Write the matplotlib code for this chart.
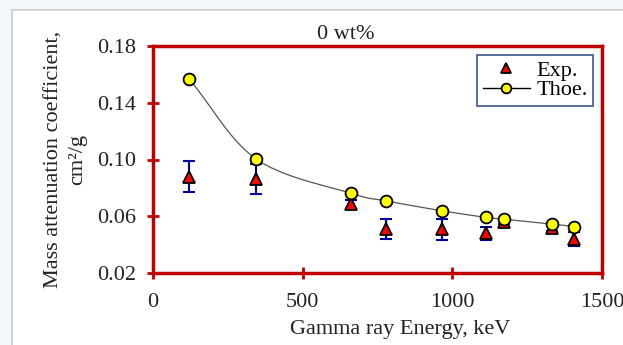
import numpy as np
import matplotlib.pyplot as plt
from matplotlib.patches import Rectangle

plt.rcParams['font.family'] = ['Liberation Serif', 'DejaVu Serif']

# gamma energies (keV)
energy = [121.8, 344.3, 661.7, 778.9, 964.1, 1112.1, 1173.2, 1332.5, 1408.0]
# experimental values and error bars
exp_mu = [0.0879, 0.0860, 0.0684, 0.0510, 0.0508, 0.0480, 0.0562, 0.0515, 0.0437]
exp_err = [0.0110, 0.0105, 0.0030, 0.0068, 0.0075, 0.0045, 0.0020, 0.0020, 0.0050]
# theoretical values
theo_mu = [0.1565, 0.1004, 0.0762, 0.0708, 0.0639, 0.0592, 0.0579, 0.0545, 0.0527]

xticks = [0, 500, 1000, 1500]
yticks = [0.02, 0.06, 0.10, 0.14, 0.18]


def smooth(xs, ys, n=30):
    # catmull-rom, roughly like excel's smoothed line
    xs = np.asarray(xs, float)
    ys = np.asarray(ys, float)
    px = np.concatenate([[2 * xs[0] - xs[1]], xs, [2 * xs[-1] - xs[-2]]])
    py = np.concatenate([[2 * ys[0] - ys[1]], ys, [2 * ys[-1] - ys[-2]]])
    outx, outy = [], []
    t = np.linspace(0, 1, n)
    for i in range(1, len(px) - 2):
        for p, out in ((px, outx), (py, outy)):
            p0, p1, p2, p3 = p[i - 1], p[i], p[i + 1], p[i + 2]
            out.extend(0.5 * (2 * p1 + (-p0 + p2) * t
                              + (2 * p0 - 5 * p1 + 4 * p2 - p3) * t ** 2
                              + (-p0 + 3 * p1 - 3 * p2 + p3) * t ** 3))
    return outx, outy


fig = plt.figure(figsize=(6.23, 3.45), dpi=100)
fig.patch.set_facecolor('#f1f7fb')
bg = Rectangle((12 / 623, -0.01), 1, 1.01 - 10 / 345, transform=fig.transFigure,
               facecolor='white', edgecolor='#d4d4d4', lw=1.5, zorder=-10)
fig.add_artist(bg)

ax = fig.add_axes([153 / 623, 1 - 273 / 345, 449 / 623, 227 / 345])
ax.set_zorder(1)
ax.set_facecolor('white')

fs = 16
red = '#c00000'
cx, cy = smooth(energy, theo_mu)
ax.plot(cx, cy, color='#555555', lw=0.9, zorder=2)
ax.errorbar(energy, exp_mu, yerr=exp_err, fmt='none', ecolor='#0000a0',
            elinewidth=1.5, capsize=4, capthick=1.5, zorder=3)
ax.plot(energy, exp_mu, '^', ms=8, mfc='red', mec='black', mew=1.3, ls='none', zorder=4)
ax.plot(energy, theo_mu, 'o', ms=8.5, mfc='#ffff00', mec='black', mew=1.3, ls='none', zorder=5)

# legend proxies
h1, = ax.plot([], [], '^', ms=6.5, mfc='red', mec='black', mew=1.3, ls='none')
h2, = ax.plot([], [], '-o', color='black', lw=1, ms=7, mfc='#ffff00', mec='black', mew=1.3)
leg = ax.legend([h1, h2], ['Exp.', 'Thoe.'], loc='upper right', fontsize=fs,
                frameon=True, fancybox=False, borderpad=0.25, handlelength=2.1,
                handletextpad=0.3, labelspacing=-0.05, borderaxespad=0.4)
leg.get_frame().set_edgecolor('#1f3a7a')
leg.get_frame().set_linewidth(1.3)

ax.set_xlim(0, 1500)
ax.set_ylim(0.02, 0.18)
ax.set_xticks(xticks)
ax.set_yticks(yticks)
ax.set_yticklabels(['%.2f' % v for v in yticks])
for s in ax.spines.values():
    s.set_color(red)
    s.set_linewidth(2.5)
ax.tick_params(direction='inout', length=8, width=2, color=red, labelsize=fs,
               labelcolor='#222222')
ax.tick_params(axis='x', pad=10.5)
ax.tick_params(axis='y', pad=8)

ax.set_title('0 wt%', fontsize=fs, pad=5, color='#222222', x=0.43)
ax.set_xlabel('Gamma ray Energy, keV', fontsize=fs, labelpad=5.5, color='#222222')
ax.xaxis.label.set_x(0.55)
ax.set_ylabel('Mass attenuation coefficient,\ncm\u00b2/g', fontsize=fs,
              labelpad=7, color='#222222', linespacing=1.38)

fig.savefig('out.png', dpi=100)
